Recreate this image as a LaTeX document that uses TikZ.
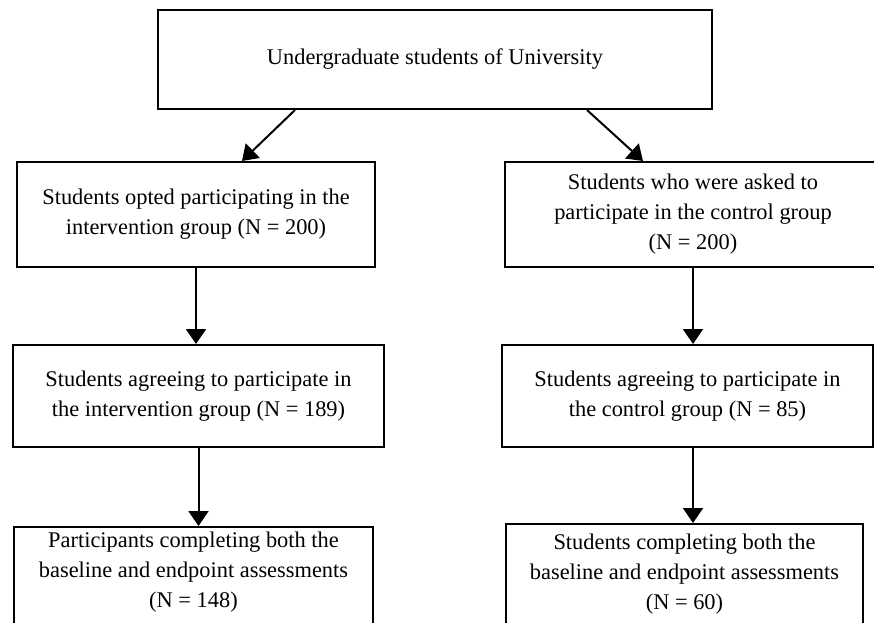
\documentclass[tikz,border=0pt]{standalone}
\usepackage{fontspec}
\setmainfont{Liberation Serif}
\usetikzlibrary{positioning, arrows.meta}

\begin{document}
\begin{tikzpicture}[
    every node/.style={font=\fontsize{11.2}{15}\selectfont},
    stage/.style={rectangle, draw=black, line width=1pt, fill=white,
                  inner sep=0pt, text centered, align=center},
    arr/.style={-{Triangle[length=7.5pt, width=10pt]}, line width=1pt, draw=black}
]

\clip (0,0) rectangle (437pt,-311pt);

% Population
\node[stage, minimum width=277pt, minimum height=49.5pt] (pop) at (217.5pt,-29.75pt) {Undergraduate students of University};

% Intervention arm
\node[stage, minimum width=179pt, minimum height=52.5pt, below=25.5pt of pop, xshift=-119.5pt] (optin) {Students opted participating in the\\intervention group (N = 200)};
\node[stage, minimum width=185.5pt, minimum height=51pt, below=38pt of optin, xshift=1.25pt] (agreeI) {Students agreeing to participate in\\the intervention group (N = 189)};
\node[stage, minimum width=179.5pt, minimum height=62pt, below=39pt of agreeI, xshift=-2.5pt] (doneI) {Participants completing both the\\baseline and endpoint assessments\\(N = 148)\\\strut};

% Control arm
\node[stage, minimum width=188pt, minimum height=52.5pt, below=25.5pt of pop, xshift=129pt] (askedC) {Students who were asked to\\participate in the control group\\(N = 200)};
\node[stage, minimum width=185.5pt, minimum height=51pt, below=38pt of askedC, xshift=-2.75pt] (agreeC) {Students agreeing to participate in\\the control group (N = 85)};
\node[stage, minimum width=178.5pt, minimum height=50pt, below=37.5pt of agreeC, xshift=-1.5pt] (doneC) {Students completing both the\\baseline and endpoint assessments\\(N = 60)};

% Arrows
\draw[arr] ([xshift=-70pt]pop.south) -- ([xshift=23pt]optin.north);
\draw[arr] ([xshift=76pt]pop.south) -- ([xshift=-25pt]askedC.north);
\draw[arr] (optin.south) -- (optin.south |- agreeI.north);
\draw[arr] (agreeI.south) -- (agreeI.south |- doneI.north);
\draw[arr] (askedC.south) -- (askedC.south |- agreeC.north);
\draw[arr] (askedC.south |- agreeC.south) -- (askedC.south |- doneC.north);

\end{tikzpicture}
\end{document}
